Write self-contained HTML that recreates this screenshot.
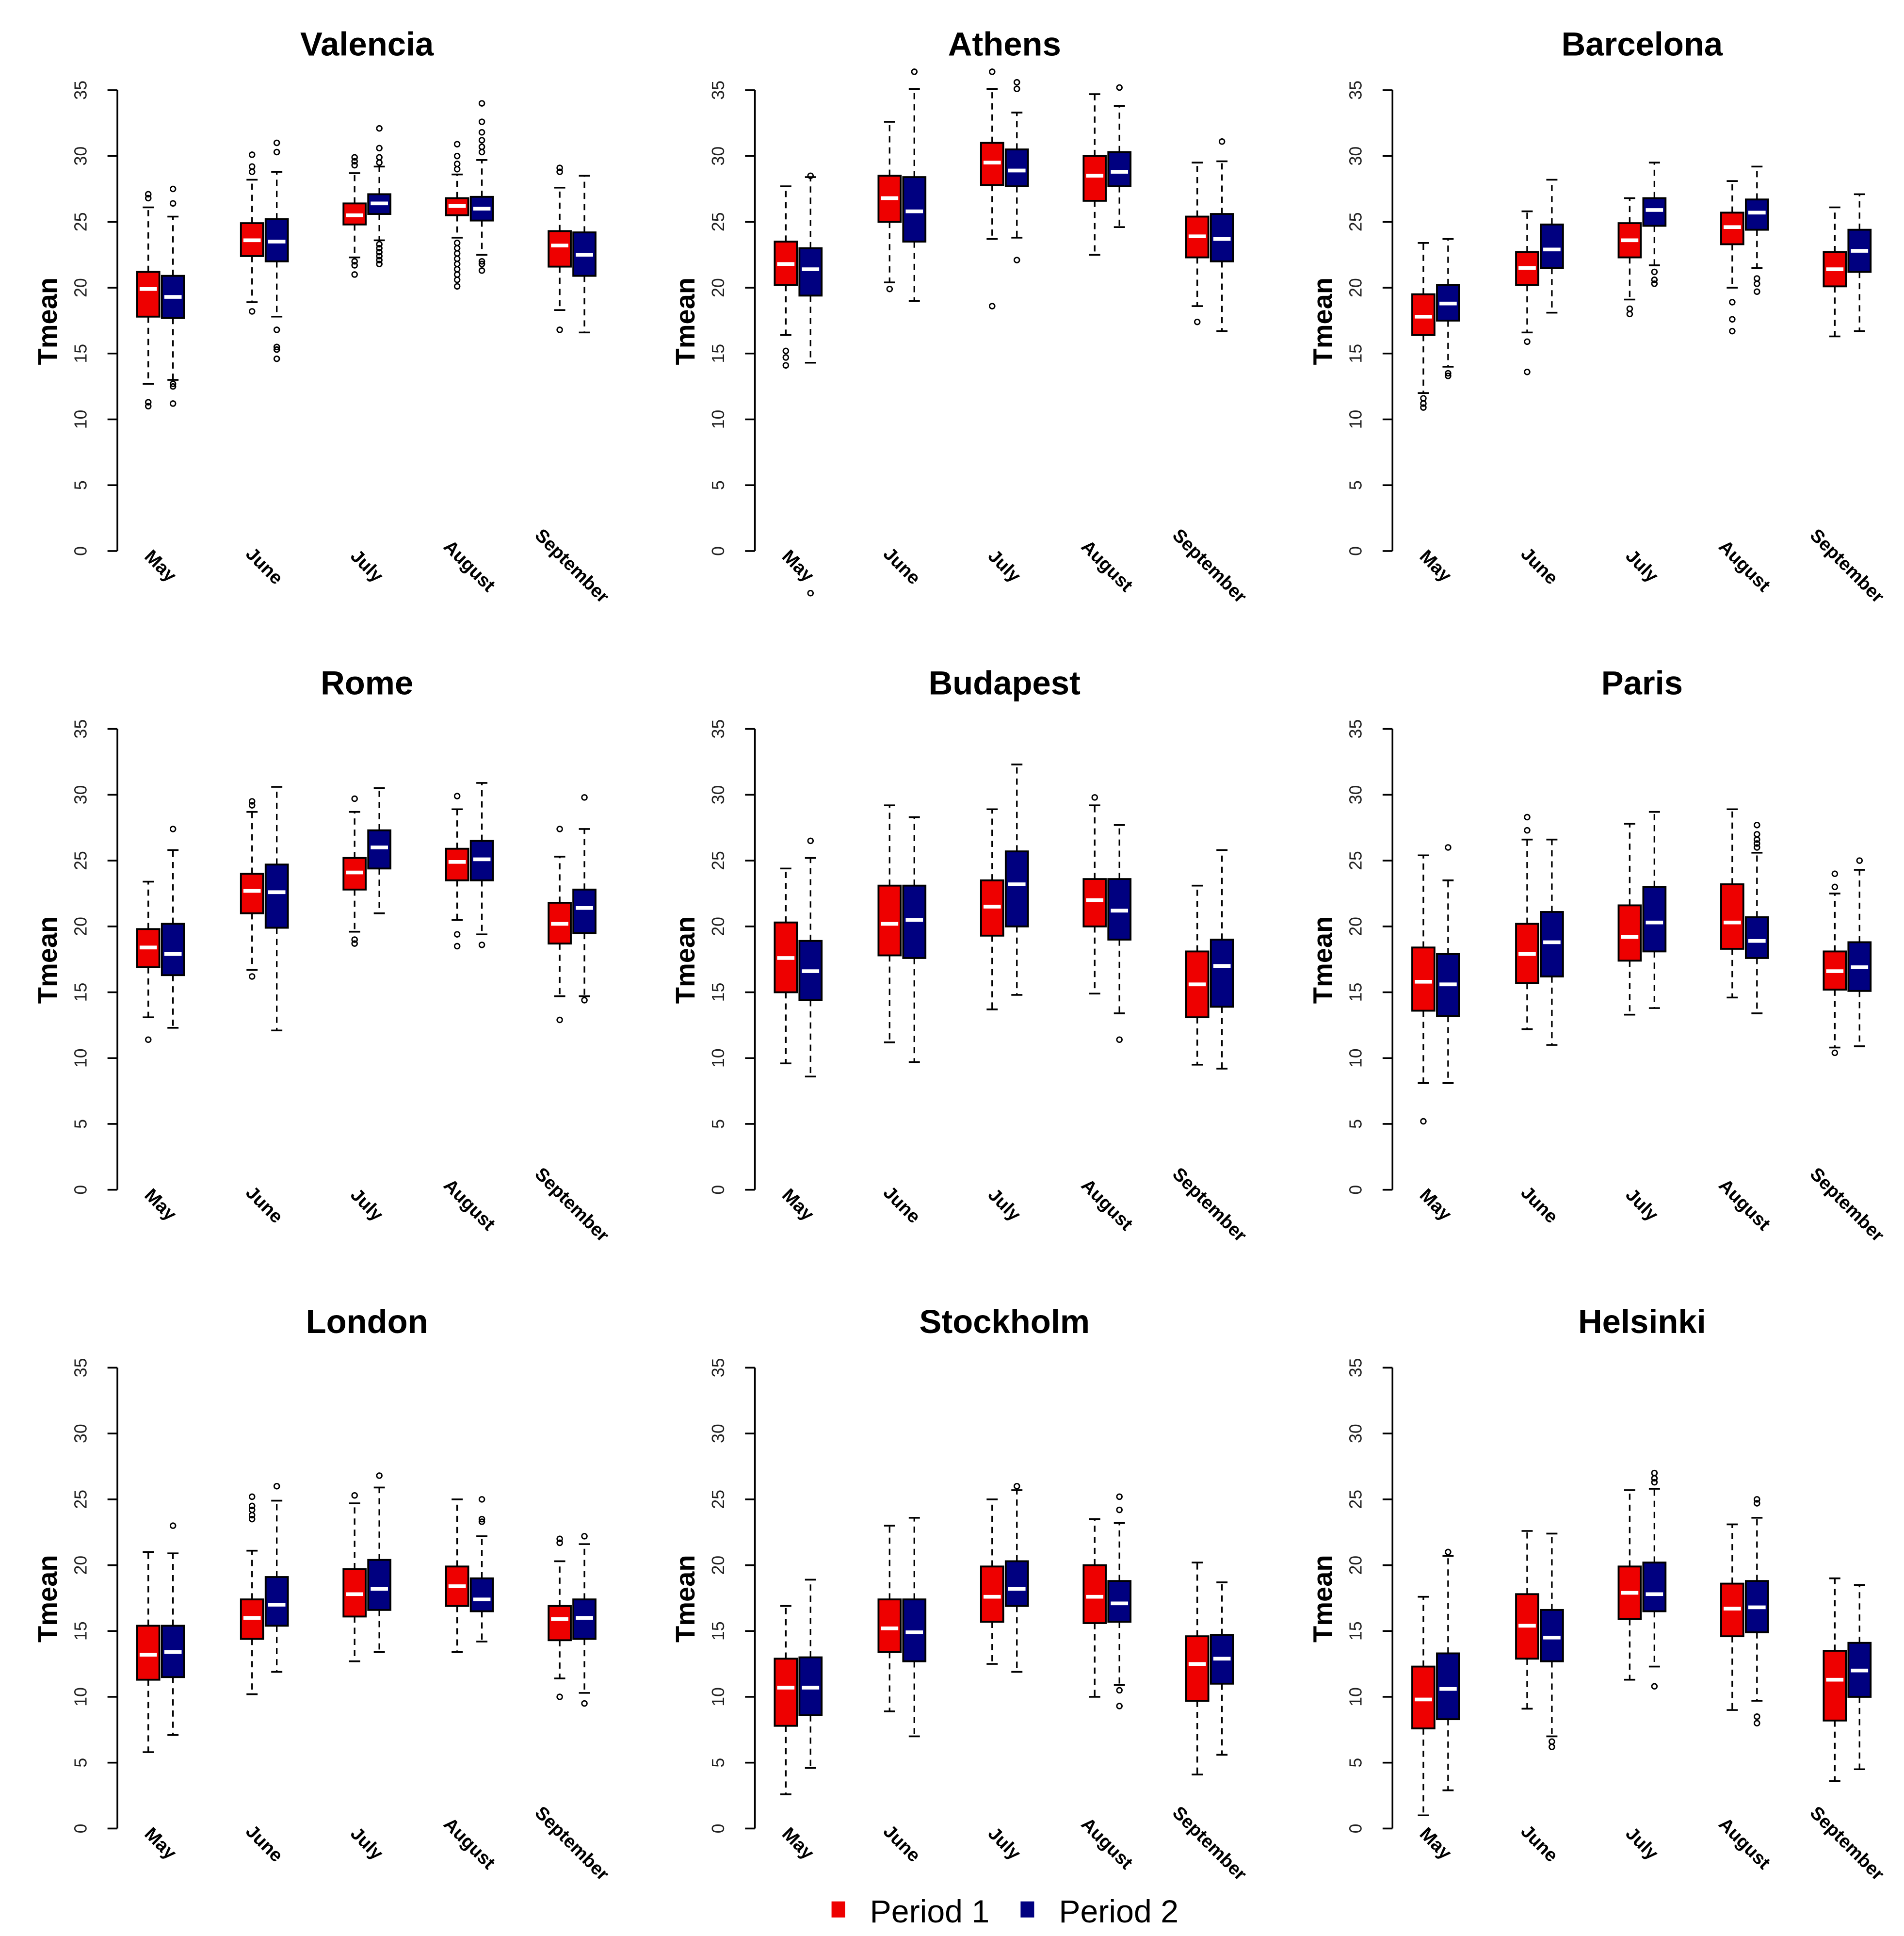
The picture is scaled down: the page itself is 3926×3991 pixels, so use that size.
<!DOCTYPE html>
<html><head><meta charset="utf-8"><title>Tmean boxplots</title>
<style>html,body{margin:0;padding:0;background:#fff}svg{display:block}</style></head>
<body>
<svg id="chart" width="3926" height="3991" viewBox="0 0 1541 1567" preserveAspectRatio="none" xmlns="http://www.w3.org/2000/svg" font-family="Liberation Sans, Arial, sans-serif">
<g id="legend">
  <rect x="673" y="1539" width="11" height="13" fill="#EE0000"/>
  <text x="704" y="1556" font-size="26">Period 1</text>
  <rect x="826" y="1539" width="11" height="13" fill="#000080"/>
  <text x="857" y="1556" font-size="26">Period 2</text>
</g>
</svg>
<script>
const cities = ["Valencia","Athens","Barcelona","Rome","Budapest","Paris","London","Stockholm","Helsinki"];
const months = ["May","June","July","August","September"];
const yTicks = [0,5,10,15,20,25,30,35];
const lowWhisker = [
 [12.7,13.0,18.9,17.8,22.3,23.6,23.8,22.5,18.3,16.6],
 [16.4,14.3,20.4,19.0,23.7,23.8,22.5,24.6,18.6,16.7],
 [12.0,14.0,16.6,18.1,19.1,21.7,20.0,21.5,16.3,16.7],
 [13.1,12.3,16.7,12.1,19.6,21.0,20.5,19.4,14.7,14.7],
 [9.6,8.6,11.2,9.7,13.7,14.8,14.9,13.4,9.5,9.2],
 [8.1,8.1,12.2,11.0,13.3,13.8,14.6,13.4,10.8,10.9],
 [5.8,7.1,10.2,11.9,12.7,13.4,13.4,14.2,11.4,10.3],
 [2.6,4.6,8.9,7.0,12.5,11.9,10.0,10.9,4.1,5.6],
 [1.0,2.9,9.1,7.0,11.3,12.3,9.0,9.7,3.6,4.5]];
const q1 = [
 [17.8,17.7,22.4,22.0,24.8,25.6,25.5,25.1,21.6,20.9],
 [20.2,19.4,25.0,23.5,27.8,27.7,26.6,27.7,22.3,22.0],
 [16.4,17.5,20.2,21.5,22.3,24.7,23.3,24.4,20.1,21.2],
 [16.9,16.3,21.0,19.9,22.8,24.4,23.5,23.5,18.7,19.5],
 [15.0,14.4,17.8,17.6,19.3,20.0,20.0,19.0,13.1,13.9],
 [13.6,13.2,15.7,16.2,17.4,18.1,18.3,17.6,15.2,15.1],
 [11.3,11.5,14.4,15.4,16.1,16.6,16.9,16.5,14.3,14.4],
 [7.8,8.6,13.4,12.7,15.7,16.9,15.6,15.7,9.7,11.0],
 [7.6,8.3,12.9,12.7,15.9,16.5,14.6,14.9,8.2,10.0]];
const median = [
 [19.9,19.3,23.6,23.5,25.5,26.4,26.2,26.0,23.2,22.5],
 [21.8,21.4,26.8,25.8,29.5,28.9,28.5,28.8,23.9,23.7],
 [17.8,18.8,21.5,22.9,23.6,25.9,24.6,25.7,21.4,22.8],
 [18.4,17.9,22.7,22.6,24.1,26.0,24.9,25.1,20.2,21.4],
 [17.6,16.6,20.2,20.5,21.5,23.2,22.0,21.2,15.6,17.0],
 [15.8,15.6,17.9,18.8,19.2,20.3,20.3,18.9,16.6,16.9],
 [13.2,13.4,16.0,17.0,17.8,18.2,18.4,17.4,15.9,16.0],
 [10.7,10.7,15.2,14.9,17.6,18.2,17.6,17.1,12.5,12.9],
 [9.8,10.6,15.4,14.5,17.9,17.8,16.7,16.8,11.3,12.0]];
const q3 = [
 [21.2,20.9,24.9,25.2,26.4,27.1,26.8,26.9,24.3,24.2],
 [23.5,23.0,28.5,28.4,31.0,30.5,30.0,30.3,25.4,25.6],
 [19.5,20.2,22.7,24.8,24.9,26.8,25.7,26.7,22.7,24.4],
 [19.8,20.2,24.0,24.7,25.2,27.3,25.9,26.5,21.8,22.8],
 [20.3,18.9,23.1,23.1,23.5,25.7,23.6,23.6,18.1,19.0],
 [18.4,17.9,20.2,21.1,21.6,23.0,23.2,20.7,18.1,18.8],
 [15.4,15.4,17.4,19.1,19.7,20.4,19.9,19.0,16.9,17.4],
 [12.9,13.0,17.4,17.4,19.9,20.3,20.0,18.8,14.6,14.7],
 [12.3,13.3,17.8,16.6,19.9,20.2,18.6,18.8,13.5,14.1]];
const highWhisker = [
 [26.1,25.4,28.2,28.8,28.7,29.2,28.6,29.7,27.6,28.5],
 [27.7,28.4,32.6,35.1,35.1,33.3,34.7,33.8,29.5,29.6],
 [23.4,23.7,25.8,28.2,26.8,29.5,28.1,29.2,26.1,27.1],
 [23.4,25.8,28.7,30.6,28.7,30.5,28.9,30.9,25.3,27.4],
 [24.4,25.2,29.2,28.3,28.9,32.3,29.2,27.7,23.1,25.8],
 [25.4,23.5,26.6,26.6,27.8,28.7,28.9,25.6,22.5,24.3],
 [21.0,20.9,21.1,24.9,24.7,25.9,25.0,22.2,20.3,21.6],
 [16.9,18.9,23.0,23.6,25.0,25.7,23.5,23.2,20.2,18.7],
 [17.6,20.7,22.6,22.4,25.7,25.8,23.1,23.6,19.0,18.5]];
const outliers = [
 [[11.0,11.3,26.8,27.1],[11.2,12.5,12.7,26.4,27.5],[18.2,28.8,29.2,30.1],[14.6,15.3,15.5,16.8,30.3,31.0],[21.0,21.7,22.0,29.3,29.6,29.9],[21.8,22.1,22.4,22.7,23.0,23.3,29.5,29.9,30.6,32.1],[20.1,20.6,21.0,21.4,21.8,22.2,22.6,23.0,23.4,29.0,29.4,30.0,30.9],[21.3,21.8,22.0,30.3,30.7,31.2,31.8,32.6,34.0],[16.8,28.8,29.1],[]],
 [[14.1,14.7,15.2],[-3.2,28.5],[19.9],[36.4],[18.6,36.4],[22.1,35.1,35.6],[],[35.2],[17.4],[31.1]],
 [[10.9,11.2,11.6],[13.3,13.5],[13.6,15.9],[],[18.0,18.4],[20.3,20.6,21.2],[16.7,17.6,18.9],[19.7,20.3,20.7],[],[]],
 [[11.4],[27.4],[16.2,29.2,29.5],[],[18.7,19.0,29.7],[],[18.5,19.4,29.9],[18.6],[12.9,27.4],[14.4,29.8]],
 [[],[26.5],[],[],[],[],[29.8],[11.4],[],[]],
 [[5.2],[26.0],[27.3,28.3],[],[],[],[],[26.0,26.3,26.6,27.0,27.7],[10.4,23.0,24.0],[25.0]],
 [[],[23.0],[23.5,23.8,24.2,24.5,25.2],[26.0],[25.3],[26.8],[],[23.3,23.5,25.0],[10.0,21.7,22.0],[9.5,22.2]],
 [[],[],[],[],[],[26.0],[],[9.3,10.5,24.2,25.2],[],[]],
 [[],[21.0],[],[6.2,6.6],[],[10.8,26.3,26.6,27.0],[],[8.0,8.5,24.7,25.0],[],[]]];

const NS = "http://www.w3.org/2000/svg";
const svg = document.getElementById("chart");
function mk(tag, attrs, parent){const e=document.createElementNS(NS,tag);for(const k in attrs)e.setAttribute(k,attrs[k]);parent.appendChild(e);return e;}
const AX = 95, Y0 = 446, Y35 = 73, COLW = 516, ROWH = 517;
const monthOffsets = [35,119,202,285,368];
const fills = ["#EE0000","#000080"];
function yScale(v, dy){return dy + Y0 - (v/35)*(Y0-Y35);}

cities.forEach((city, ci) => {
  const dx = (ci%3)*COLW, dy = Math.floor(ci/3)*ROWH;
  const g = mk("g", {}, svg);
  
  
  const ax = dx + AX;
  const t = mk("text", {x: ax+202, y: dy+45, "font-size": 27, "font-weight": "bold", "text-anchor": "middle"}, g);
  t.textContent = city;
  
  
  const yl = mk("text", {x: 0, y: 0, "font-size": 22, "font-weight": "bold", "text-anchor": "middle", transform: `translate(${dx+46},${dy+260}) rotate(-90)`}, g);
  yl.textContent = "Tmean";
  
  
  const axl = mk("line", {x1: ax, x2: ax, y1: yScale(0,dy), y2: yScale(35,dy), stroke: "#000", "stroke-width": 1.4}, g);
  
  
  yTicks.forEach(v => {
    const y = yScale(v, dy);
    const tk = mk("line", {x1: ax-8, x2: ax, y1: y, y2: y, stroke: "#000", "stroke-width": 1.4}, g);
    
    
    const tl = mk("text", {x: 0, y: 0, "font-size": 14, fill: "#222", "text-anchor": "middle", transform: `translate(${ax-25},${y}) rotate(-90)`}, g);
    tl.textContent = v;
    
    
  });
  months.forEach((m, mi) => {
    const cx = ax + monthOffsets[mi];
    const ml = mk("text", {x: 0, y: 5, "font-size": 15, "font-weight": "bold", "text-anchor": "middle", transform: `translate(${cx},${dy+458}) rotate(45)`}, g);
    ml.textContent = m;
    
    
    for (let p = 0; p < 2; p++) {
      const b = mi*2 + p;
      const bx = cx + (p === 0 ? -10 : 10);
      const bg = mk("g", {}, g);
      
      
      const yLo = yScale(lowWhisker[ci][b], dy), yHi = yScale(highWhisker[ci][b], dy);
      const yQ1 = yScale(q1[ci][b], dy), yQ3 = yScale(q3[ci][b], dy), yMed = yScale(median[ci][b], dy);
      mk("line", {x1: bx, x2: bx, y1: yQ1, y2: yLo, stroke: "#000", "stroke-width": 1.3, "stroke-dasharray": "5,4"}, bg);
      mk("line", {x1: bx, x2: bx, y1: yQ3, y2: yHi, stroke: "#000", "stroke-width": 1.3, "stroke-dasharray": "5,4"}, bg);
      mk("line", {x1: bx-4.5, x2: bx+4.5, y1: yLo, y2: yLo, stroke: "#000", "stroke-width": 1.4}, bg);
      mk("line", {x1: bx-4.5, x2: bx+4.5, y1: yHi, y2: yHi, stroke: "#000", "stroke-width": 1.4}, bg);
      mk("rect", {x: bx-9, y: yQ3, width: 18, height: yQ1-yQ3, fill: fills[p], stroke: "#000", "stroke-width": 1.5}, bg);
      mk("line", {x1: bx-7, x2: bx+7, y1: yMed, y2: yMed, stroke: "#fff", "stroke-width": 3}, bg);
      outliers[ci][b].forEach(v => {
        const c = mk("circle", {cx: bx, cy: yScale(v, dy), r: 2.1, fill: "none", stroke: "#000", "stroke-width": 1.1}, bg);
        
        
      });
    }
  });
});
</script>
</body></html>
